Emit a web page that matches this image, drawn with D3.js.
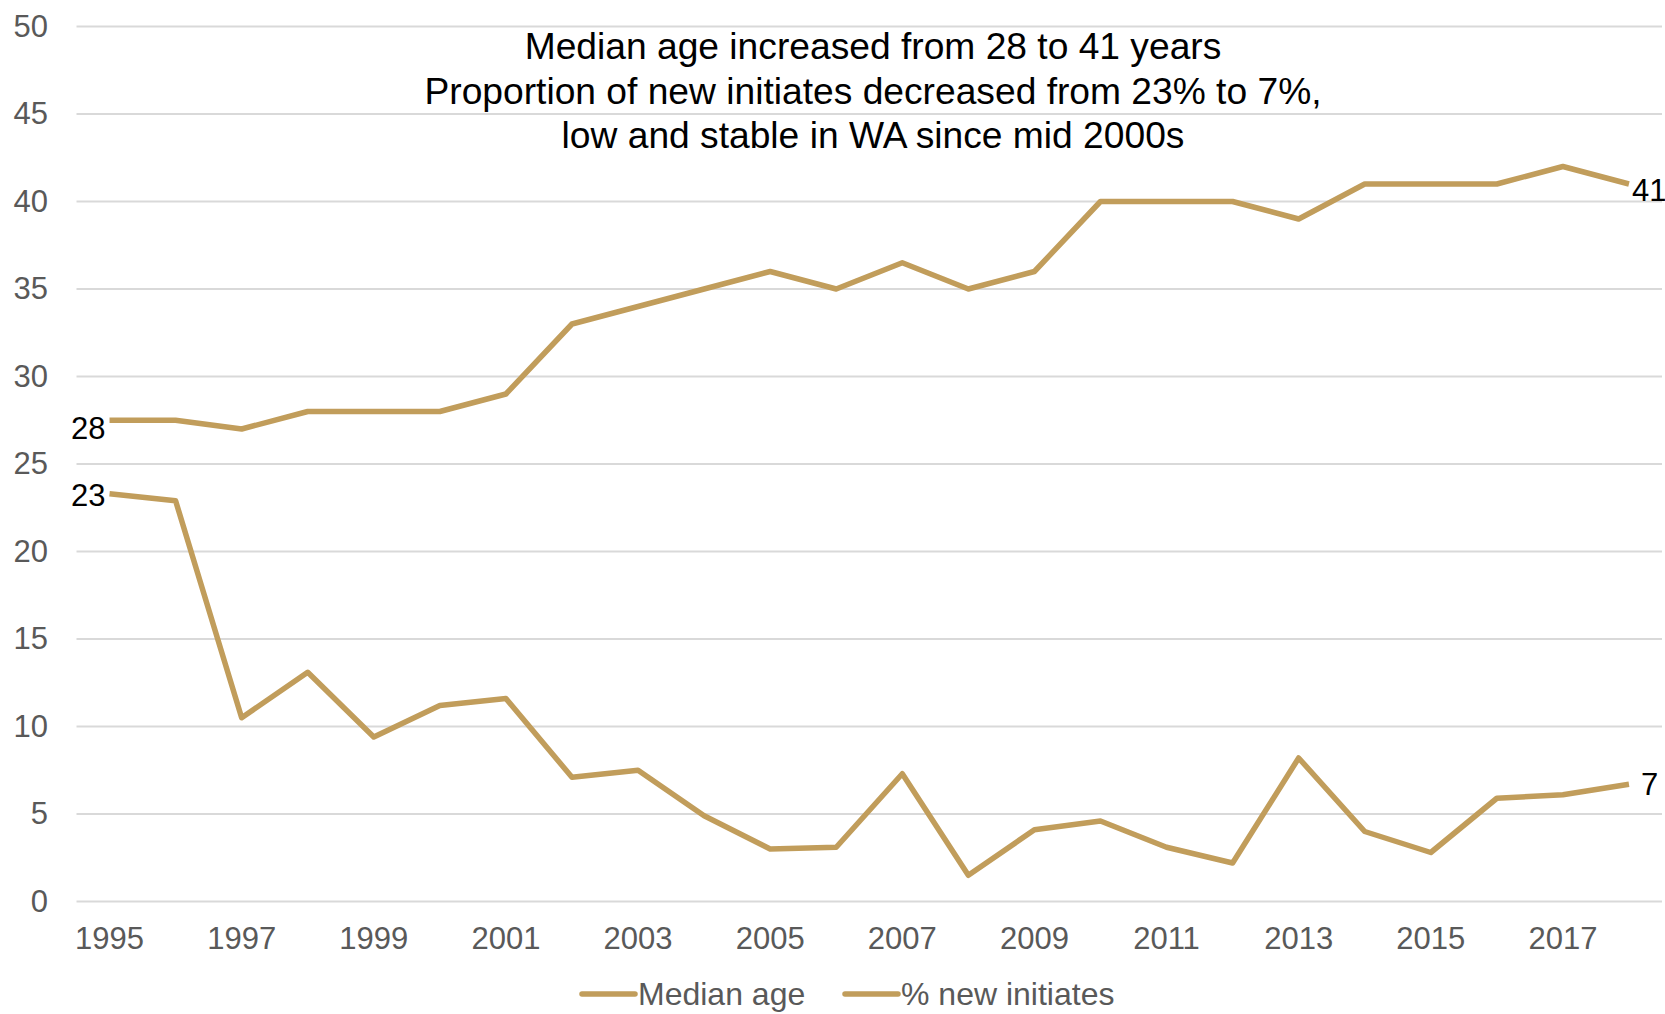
<!DOCTYPE html>
<html>
<head>
<meta charset="utf-8">
<script src="https://cdn.jsdelivr.net/npm/d3@7"></script>
<style>
  html, body { margin: 0; padding: 0; background: #fff; overflow: hidden; }
  svg { display: block; font-family: "Liberation Sans", Arial, sans-serif; }
</style>
</head>
<body>
<svg id="chart" width="1665" height="1014"></svg>
<script>
// Years on the category axis
const years = d3.range(1995, 2019).map(String);

// Median age of people who inject drugs (years)
const medianAge = [27.5, 27.5, 27, 28, 28, 28, 29, 33, 34, 35, 36, 35, 36.5, 35, 36, 40, 40, 40, 39, 41, 41, 41, 42, 41];

// Percentage of respondents who were new initiates
const newInitiates = [23.3, 22.9, 10.5, 13.1, 9.4, 11.2, 11.6, 7.1, 7.5, 4.9, 3.0, 3.1, 7.3, 1.5, 4.1, 4.6, 3.1, 2.2, 8.2, 4.0, 2.8, 5.9, 6.1, 6.7];

const yTicks = [0, 5, 10, 15, 20, 25, 30, 35, 40, 45, 50];
const xTickLabels = years.filter((d, i) => i % 2 === 0);

const seriesNames = ["Median age", "% new initiates"];

const titleLines = [
  "Median age increased from 28 to 41 years",
  "Proportion of new initiates decreased from 23% to 7%,",
  "low and stable in WA since mid 2000s"
];

const lineColor = "#C19D5B";
const gridColor = "#D9D9D9";
const axisText = "#595959";

const svg = d3.select("#chart");

const x = d3.scaleBand().domain(years).range([76.5, 1662]);
const cx = d => x(d) + x.bandwidth() / 2;
const y = d3.scaleLinear().domain([0, 50]).range([901.5, 26.5]);

// Horizontal gridlines
svg.append("g")
  .selectAll("line")
  .data(yTicks)
  .join("line")
  .attr("x1", x.range()[0])
  .attr("x2", x.range()[1])
  .attr("y1", d => y(d))
  .attr("y2", d => y(d))
  .attr("stroke", gridColor)
  .attr("stroke-width", 2);

// Y axis labels
const yAxis = d3.axisLeft(y).tickValues(yTicks).tickSize(0).tickPadding(0);
svg.append("g")
  .attr("transform", "translate(48,0)")
  .call(yAxis)
  .call(g => g.select(".domain").remove())
  .call(g => g.selectAll("text")
    .attr("fill", axisText)
    .attr("font-size", 31)
    .attr("font-family", "Liberation Sans, Arial, sans-serif"));

// X axis labels (every other year)
const xAxis = d3.axisBottom(x).tickValues(xTickLabels).tickSize(0).tickPadding(0);
svg.append("g")
  .attr("transform", "translate(0,927)")
  .call(xAxis)
  .call(g => g.select(".domain").remove())
  .call(g => g.selectAll("text")
    .attr("fill", axisText)
    .attr("font-size", 31)
    .attr("font-family", "Liberation Sans, Arial, sans-serif"));

// Series lines
const line = d3.line()
  .x((d, i) => cx(years[i]))
  .y(d => y(d));

[medianAge, newInitiates].forEach(values => {
  svg.append("path")
    .datum(values)
    .attr("fill", "none")
    .attr("stroke", lineColor)
    .attr("stroke-width", 5.5)
    .attr("stroke-linejoin", "round")
    .attr("d", line);
});

// End-point value labels
const endLabels = [
  { values: medianAge, idx: 0, text: "28", anchor: "end", dx: -4, dy: 8 },
  { values: newInitiates, idx: 0, text: "23", anchor: "end", dx: -4, dy: 1 },
  { values: medianAge, idx: years.length - 1, text: "41", anchor: "start", dx: 3, dy: 6 },
  { values: newInitiates, idx: years.length - 1, text: "7", anchor: "start", dx: 12, dy: 0 }
];
svg.append("g")
  .selectAll("text")
  .data(endLabels)
  .join("text")
  .attr("x", d => cx(years[d.idx]) + d.dx)
  .attr("y", d => y(d.values[d.idx]) + d.dy)
  .attr("dy", "0.35em")
  .attr("text-anchor", d => d.anchor)
  .attr("font-size", 31)
  .attr("fill", "#000")
  .text(d => d.text);

// Annotation title
svg.append("g")
  .selectAll("text")
  .data(titleLines)
  .join("text")
  .attr("x", 873)
  .attr("y", (d, i) => 46 + i * 44.6)
  .attr("dy", "0.35em")
  .attr("text-anchor", "middle")
  .attr("font-size", 37.2)
  .attr("fill", "#000")
  .text(d => d);

// Legend
const legendItems = [
  { name: seriesNames[0], x0: 582 },
  { name: seriesNames[1], x0: 845 }
];
const lg = svg.append("g").selectAll("g").data(legendItems).join("g")
  .attr("transform", d => `translate(${d.x0},994)`);
lg.append("line")
  .attr("x1", 0).attr("x2", 53)
  .attr("y1", 0).attr("y2", 0)
  .attr("stroke", lineColor)
  .attr("stroke-width", 5.5)
  .attr("stroke-linecap", "round");
lg.append("text")
  .attr("x", 56)
  .attr("y", 0)
  .attr("dy", "0.35em")
  .attr("font-size", 32)
  .attr("fill", axisText)
  .text(d => d.name);
</script>
</body>
</html>
